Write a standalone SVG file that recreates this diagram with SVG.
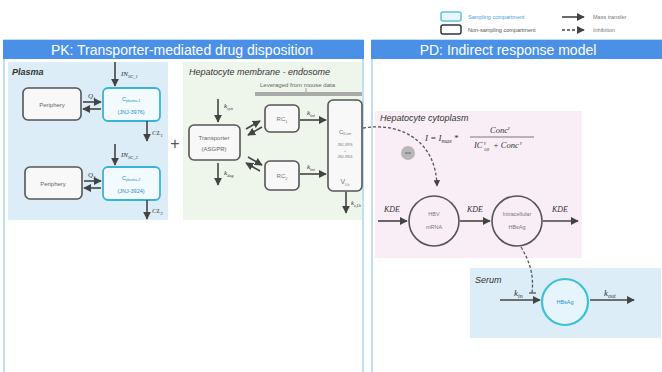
<svg xmlns="http://www.w3.org/2000/svg" width="662" height="372" viewBox="0 0 662 372">
<defs>
<marker id="ah" viewBox="0 0 10 10" refX="9" refY="5" markerWidth="5" markerHeight="5" orient="auto-start-reverse"><path d="M0,0 L10,5 L0,10 z" fill="#444"/></marker>
<style>
.t{font-family:"Liberation Sans",Arial,sans-serif;}
.m{font-family:"Liberation Serif","Times New Roman",serif;font-style:italic;fill:#333;}
.ns{fill:#f7f8f7;stroke:#555;stroke-width:1.6;}
.sp{fill:#f2fafd;stroke:#38b4d6;stroke-width:1.8;}
.ar{stroke:#444;stroke-width:1.6;fill:none;marker-end:url(#ah);}
.sb{font-size:5.5px;fill:#2a8fc8;}
.ti{font-size:9px;font-style:italic;fill:#333;}
.dash{stroke:#555;stroke-width:1.3;fill:none;stroke-dasharray:3,2;}
</style>
</defs>
<rect width="662" height="372" fill="#fff"/>

<!-- Legend -->
<g id="legend">
<rect x="441" y="12" width="20" height="9" rx="2" fill="#eaf6fb" stroke="#5cc4e0" stroke-width="1.5"/>
<text class="t" x="468" y="19" font-size="5.5" fill="#4a9fd8">Sampling compartment</text>
<rect x="441" y="25" width="20" height="9" rx="2" fill="#fff" stroke="#333" stroke-width="1.5"/>
<text class="t" x="468" y="32" font-size="5.5" fill="#555">Non-sampling compartment</text>
<line x1="562" y1="17" x2="584" y2="17" class="ar"/>
<text class="t" x="593" y="19" font-size="5.5" fill="#777">Mass transfer</text>
<line x1="562" y1="30" x2="584" y2="30" class="ar" stroke-dasharray="3,2"/>
<text class="t" x="593" y="32" font-size="5.5" fill="#777">Inhibition</text>
</g>

<!-- Panels -->
<g id="pk-panel">
<rect x="4" y="40" width="359" height="340" fill="#fff" stroke="#a8d8f0" stroke-width="1.5"/>
<rect x="3" y="40" width="361" height="19" fill="#4a90e6"/>
<text class="t" x="182" y="55" font-size="14" fill="#fff" text-anchor="middle">PK: Transporter-mediated drug disposition</text>
</g>
<g id="pd-panel">
<rect x="372" y="40" width="292" height="340" fill="#fff" stroke="#a8d8f0" stroke-width="1.5"/>
<rect x="371" y="40" width="291" height="19" fill="#4a90e6"/>
<text class="t" x="508" y="55" font-size="14" fill="#fff" text-anchor="middle">PD: Indirect response model</text>
</g>

<!-- Regions -->
<g id="plasma">
<rect x="8" y="62" width="160" height="158" fill="#dcedf7"/>
<text class="t" x="12" y="75" font-size="9" font-weight="bold" font-style="italic" fill="#333">Plasma</text>
</g>
<g id="membrane">
<rect x="183" y="62" width="179" height="158" fill="#eef5ea"/>
<text class="t ti" x="189" y="75">Hepatocyte membrane - endosome</text>
<text class="t" x="260" y="87" font-size="6" fill="#666">Leveraged from mouse data</text>
<rect x="255" y="92" width="107" height="4" fill="#aaa"/>
<line x1="306" y1="88" x2="306" y2="92" stroke="#888" stroke-width="0.8"/>
</g>
<g id="cytoplasm">
<rect x="375" y="111" width="207" height="147" fill="#f9eef6"/>
<text class="t ti" x="380" y="121">Hepatocyte cytoplasm</text>
</g>
<g id="serum">
<rect x="470" y="268" width="191" height="70" fill="#dcedf7"/>
<text class="t ti" x="475" y="283">Serum</text>
</g>

<!-- Plasma nodes -->
<g id="periphery1"><rect x="23" y="88" width="58" height="32" rx="5" class="ns"/><text class="t" x="52" y="107" font-size="6" fill="#666" text-anchor="middle">Periphery</text></g>
<g id="cplasma1"><rect x="103" y="88" width="57" height="33" rx="5" class="sp"/><text class="t sb" x="131" y="101" text-anchor="middle">C<tspan font-size="3.5" dy="1">plasma,1</tspan></text><text class="t sb" x="131" y="114" text-anchor="middle">(JNJ-3976)</text></g>
<g id="periphery2"><rect x="25" y="167" width="57" height="32" rx="5" class="ns"/><text class="t" x="53" y="186" font-size="6" fill="#666" text-anchor="middle">Periphery</text></g>
<g id="cplasma2"><rect x="103" y="167" width="57" height="33" rx="5" class="sp"/><text class="t sb" x="131" y="180" text-anchor="middle">C<tspan font-size="3.5" dy="1">plasma,2</tspan></text><text class="t sb" x="131" y="193" text-anchor="middle">(JNJ-3924)</text></g>

<!-- Hepatocyte nodes -->
<g id="transporter"><rect x="189" y="125" width="51" height="35" rx="5" class="ns"/><text class="t" x="214" y="140" font-size="6" fill="#666" text-anchor="middle">Transporter</text><text class="t" x="214" y="151" font-size="6" fill="#666" text-anchor="middle">(ASGPR)</text></g>
<g id="rc1"><rect x="265" y="105" width="34" height="27" rx="5" class="ns"/><text class="t" x="282" y="121" font-size="6" fill="#777" text-anchor="middle">RC<tspan font-size="4" dy="1.5">1</tspan></text></g>
<g id="rc2"><rect x="265" y="161" width="34" height="29" rx="5" class="ns"/><text class="t" x="282" y="178" font-size="6" fill="#777" text-anchor="middle">RC<tspan font-size="4" dy="1.5">2</tspan></text></g>
<g id="endosome"><rect x="328" y="100" width="34" height="91" rx="5" class="ns"/>
<text class="t" x="345" y="134" font-size="6" fill="#777" text-anchor="middle">C<tspan font-size="3.5" dy="1">ILum</tspan></text>
<text class="t" x="345" y="146" font-size="3.5" fill="#777" text-anchor="middle">JNJ-3976</text>
<text class="t" x="345" y="152" font-size="3.5" fill="#777" text-anchor="middle">+</text>
<text class="t" x="345" y="158" font-size="3.5" fill="#777" text-anchor="middle">JNJ-3924</text>
<text class="t" x="345" y="184" font-size="7" fill="#777" text-anchor="middle">V<tspan font-size="4" dy="1.5">Lh</tspan></text></g>

<!-- PD nodes -->
<g id="hbv-mrna"><circle cx="434" cy="221" r="25" fill="#f9eef6" stroke="#555" stroke-width="1.6"/><text class="t" x="434" y="216" font-size="5.5" fill="#777" text-anchor="middle">HBV</text><text class="t" x="434" y="229" font-size="5.5" fill="#777" text-anchor="middle">mRNA</text></g>
<g id="intra-hbsag"><circle cx="517" cy="221" r="25" fill="#f9eef6" stroke="#555" stroke-width="1.6"/><text class="t" x="517" y="216" font-size="5.5" fill="#777" text-anchor="middle">Intracellular</text><text class="t" x="517" y="229" font-size="5.5" fill="#777" text-anchor="middle">HBsAg</text></g>
<g id="serum-hbsag"><circle cx="565" cy="302" r="23" fill="#e6f5fb" stroke="#3cc0d8" stroke-width="2.2"/><text class="t" x="565" y="304" font-size="5.5" fill="#2a8fc8" text-anchor="middle">HBsAg</text></g>
<g id="inhib-sign"><circle cx="408" cy="153" r="7" fill="#b8b8b8"/><line x1="405" y1="153" x2="411" y2="153" stroke="#666" stroke-width="1"/></g>

<!-- Formula -->
<g id="formula">
<text class="m" x="425" y="141" font-size="9">I = I<tspan font-size="6" dy="2">max</tspan><tspan dy="-2"> *</tspan></text>
<text class="m" x="500" y="133" font-size="8.5" text-anchor="middle">Conc<tspan font-size="5" dy="-4">γ</tspan></text>
<line x1="470" y1="137" x2="534" y2="137" stroke="#444" stroke-width="0.7"/>
<text class="m" x="474" y="148" font-size="8.5">IC</text>
<text class="m" x="484" y="144" font-size="5">γ</text>
<text class="m" x="484" y="151" font-size="5">50</text>
<text class="m" x="493" y="148" font-size="8.5">+ Conc</text>
<text class="m" x="520" y="144" font-size="5">γ</text>
</g>

<text class="t" x="175" y="149" font-size="16" fill="#555" text-anchor="middle">+</text>

<!-- Connectors -->
<g id="connectors">
<line x1="115" y1="62" x2="115" y2="86" class="ar"/>
<text class="m" x="121" y="76" font-size="7">IN<tspan font-size="4.5" dy="1.5">SC_1</tspan></text>
<line x1="83" y1="102" x2="101" y2="102" class="ar"/>
<line x1="101" y1="109" x2="83" y2="109" class="ar"/>
<text class="m" x="88" y="98" font-size="7">Q<tspan font-size="4.5" dy="1.5">1</tspan></text>
<line x1="147" y1="121" x2="147" y2="141" class="ar"/>
<text class="m" x="152" y="135" font-size="7">CL<tspan font-size="4.5" dy="1.5">1</tspan></text>
<line x1="115" y1="144" x2="115" y2="165" class="ar"/>
<text class="m" x="121" y="157" font-size="7">IN<tspan font-size="4.5" dy="1.5">SC_2</tspan></text>
<line x1="84" y1="181" x2="101" y2="181" class="ar"/>
<line x1="101" y1="188" x2="84" y2="188" class="ar"/>
<text class="m" x="88" y="177" font-size="7">Q<tspan font-size="4.5" dy="1.5">2</tspan></text>
<line x1="147" y1="200" x2="147" y2="219" class="ar"/>
<text class="m" x="152" y="213" font-size="7">CL<tspan font-size="4.5" dy="1.5">2</tspan></text>
<line x1="218" y1="99" x2="218" y2="122" class="ar"/>
<text class="m" x="224" y="108" font-size="7">k<tspan font-size="4.5" dy="1.5">syn</tspan></text>
<line x1="218" y1="163" x2="218" y2="185" class="ar"/>
<text class="m" x="224" y="175" font-size="7">k<tspan font-size="4.5" dy="1.5">deg</tspan></text>
<line x1="246" y1="129" x2="260" y2="121" class="ar"/>
<line x1="262" y1="127" x2="248" y2="135" class="ar"/>
<line x1="248" y1="157" x2="262" y2="165" class="ar"/>
<line x1="260" y1="171" x2="246" y2="163" class="ar"/>
<line x1="300" y1="120" x2="326" y2="120" class="ar"/>
<text class="m" x="307" y="115" font-size="7">k<tspan font-size="4.5" dy="1.5">int</tspan></text>
<line x1="300" y1="174" x2="326" y2="174" class="ar"/>
<text class="m" x="307" y="169" font-size="7">k<tspan font-size="4.5" dy="1.5">int</tspan></text>
<line x1="346" y1="192" x2="346" y2="213" class="ar"/>
<text class="m" x="351" y="205" font-size="6.5">k<tspan font-size="4" dy="1.5">e,Lh</tspan></text>
<path d="M363,128 C400,122 436,140 437,186" class="dash" marker-end="url(#ah)"/>
<line x1="378" y1="221" x2="407" y2="221" class="ar" stroke="#555"/>
<text class="m" x="384" y="212" font-size="8">KDE</text>
<line x1="460" y1="221" x2="490" y2="221" class="ar" stroke="#555"/>
<text class="m" x="467" y="212" font-size="8">KDE</text>
<line x1="543" y1="221" x2="578" y2="221" class="ar" stroke="#555"/>
<text class="m" x="552" y="212" font-size="8">KDE</text>
<path d="M521,247 C530,262 534,275 532,293" class="dash"/>
<line x1="529" y1="293" x2="536" y2="293" stroke="#555" stroke-width="1.3"/>
<line x1="500" y1="300" x2="540" y2="300" class="ar" stroke="#555"/>
<text class="m" x="514" y="296" font-size="9">k<tspan font-size="6" dy="2">in</tspan></text>
<line x1="590" y1="300" x2="634" y2="300" class="ar" stroke="#555"/>
<text class="m" x="604" y="296" font-size="9">k<tspan font-size="6" dy="2">out</tspan></text>
</g>
</svg>
